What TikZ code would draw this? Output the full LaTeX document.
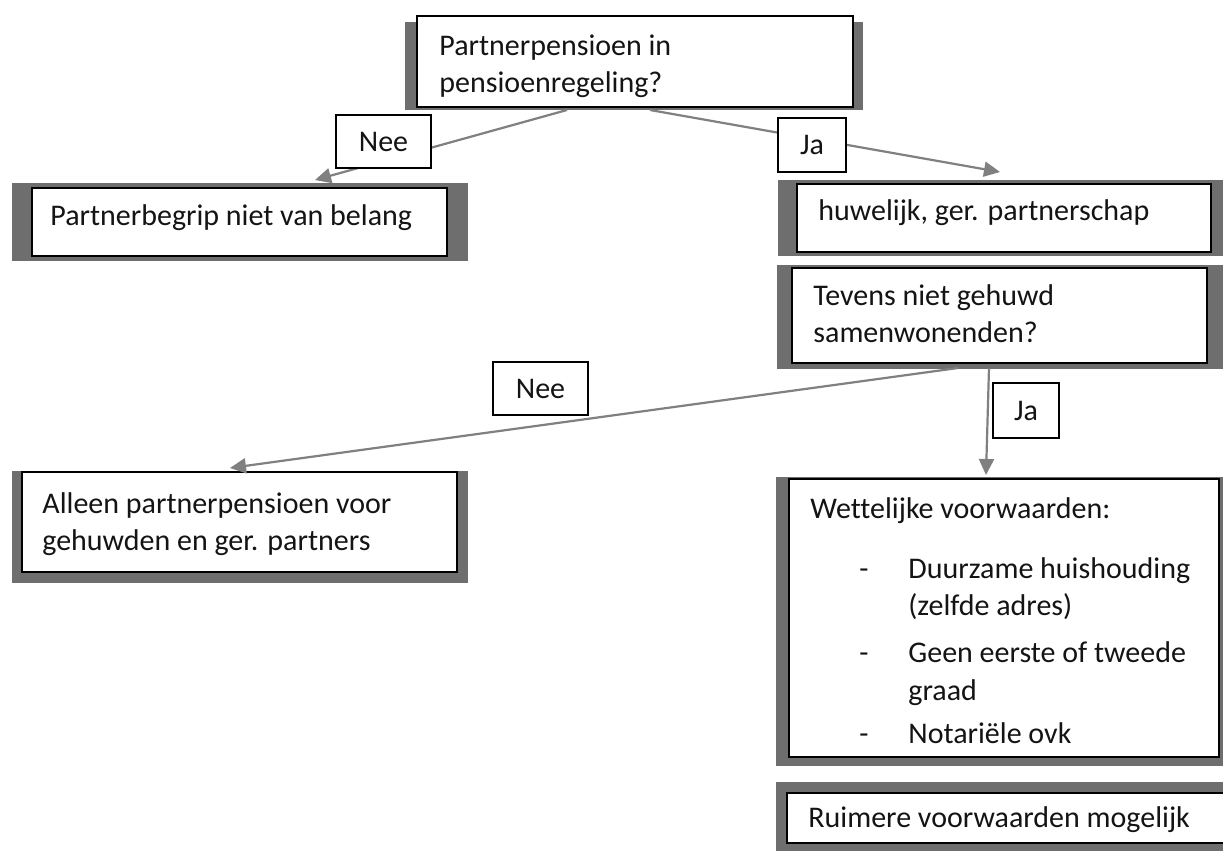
\documentclass[tikz,border=0pt]{standalone}
\usepackage{fontspec}
\setmainfont{Carlito}[Ligatures=NoCommon]
\usetikzlibrary{arrows.meta,fit}
\definecolor{framegray}{HTML}{6E6E6E}
\definecolor{arrowgray}{HTML}{808080}
\definecolor{ink}{HTML}{141414}
\begin{document}
\begin{tikzpicture}[x=0.5pt,y=-0.5pt,
  frame/.style={fill=framegray, draw=none, inner sep=0pt},
  box/.style={draw=black, line width=1pt, fill=white, inner sep=0pt},
  txt/.style={anchor=base west, inner sep=0pt, align=left, text=ink,
              font=\fontsize{15}{18.5}\selectfont},
  lbl/.style={draw=black, line width=0.9pt, fill=white, inner sep=0pt,
              text=ink, font=\fontsize{15}{18.5}\selectfont},
  arr/.style={draw=arrowgray, line width=1.1pt,
              -{Triangle[length=8pt,width=7.5pt]}}]
\useasboundingbox (0,0) rectangle (1223,851);
\fill[white] (0,0) rectangle (1223,851);
% frames and boxes
\node[frame, fit={(405,22)(863,110)}] (f1) {};
\node[box, fit={(417,16)(853,107)}] (b1) {};
\node[frame, fit={(12,183)(468,261)}] (f2) {};
\node[box, fit={(32,188)(447,256)}] (b2) {};
\node[frame, fit={(778,180)(1230,256)}] (f3) {};
\node[box, fit={(797,184)(1211,252)}] (b3) {};
\node[frame, fit={(777,265)(1230,369)}] (f4) {};
\node[box, fit={(792,268)(1207,363)}] (b4) {};
\node[frame, fit={(12,471)(468,583)}] (f5) {};
\node[box, fit={(22,472)(457,572)}] (b5) {};
\node[frame, fit={(776,477)(1230,766)}] (f6) {};
\node[box, fit={(789,479)(1219,757)}] (b6) {};
\node[frame, fit={(776,782)(1230,860)}] (f7) {};
\node[box, fit={(787,793)(1235,843)}] (b7) {};
% texts (base anchor of a multi-line node = last line)
\node[txt] (t1) at (439,92) {Partnerpensioen in\\pensioenregeling?};
\node[txt] (t2) at (50,225) {Partnerbegrip niet van belang};
\node[txt] (t3) at (818,220) {huwelijk, ger. partnerschap};
\node[txt] (t4) at (813,342) {Tevens niet gehuwd\\samenwonenden?};
\node[txt] (t5) at (42,550) {Alleen partnerpensioen voor\\gehuwden en ger. partners};
\node[txt] (t6) at (810,518) {Wettelijke voorwaarden:};
\node[txt] (d1) at (859,578) {-};
\node[txt] (i1) at (908,578) {Duurzame huishouding};
\node[txt] (i1b) at (908,615) {(zelfde adres)};
\node[txt] (d2) at (859,662) {-};
\node[txt] (i2) at (908,662) {Geen eerste of tweede};
\node[txt] (i2b) at (908,700) {graad};
\node[txt] (d3) at (859,743) {-};
\node[txt] (i3) at (908,743) {Notariële ovk};
\node[txt] (t7) at (808,827) {Ruimere voorwaarden mogelijk};
% connector end points
\coordinate (s1) at (567,110);
\coordinate (e1) at (315,180);
\coordinate (s2) at (650,110);
\coordinate (e2) at (1000,172);
\coordinate (s3) at (958,368);
\coordinate (e3) at (230,468);
\coordinate (s4) at (989,368);
\coordinate (e4) at (986,475);
\draw[arr] (s1) -- (e1);
\draw[arr] (s2) -- (e2);
\draw[arr] (s3) -- (e3);
\draw[arr] (s4) -- (e4);
% labels
\node[lbl, minimum width=47.5pt, minimum height=26.5pt] (nee1) at (383.5,141.5) {Nee};
\node[lbl, minimum width=34pt, minimum height=27pt] (ja1) at (812,145) {Ja};
\node[lbl, minimum width=47.5pt, minimum height=26.5pt] (nee2) at (540.5,388.5) {Nee};
\node[lbl, minimum width=33pt, minimum height=27.5pt] (ja2) at (1026,410.5) {Ja};
\end{tikzpicture}
\end{document}
